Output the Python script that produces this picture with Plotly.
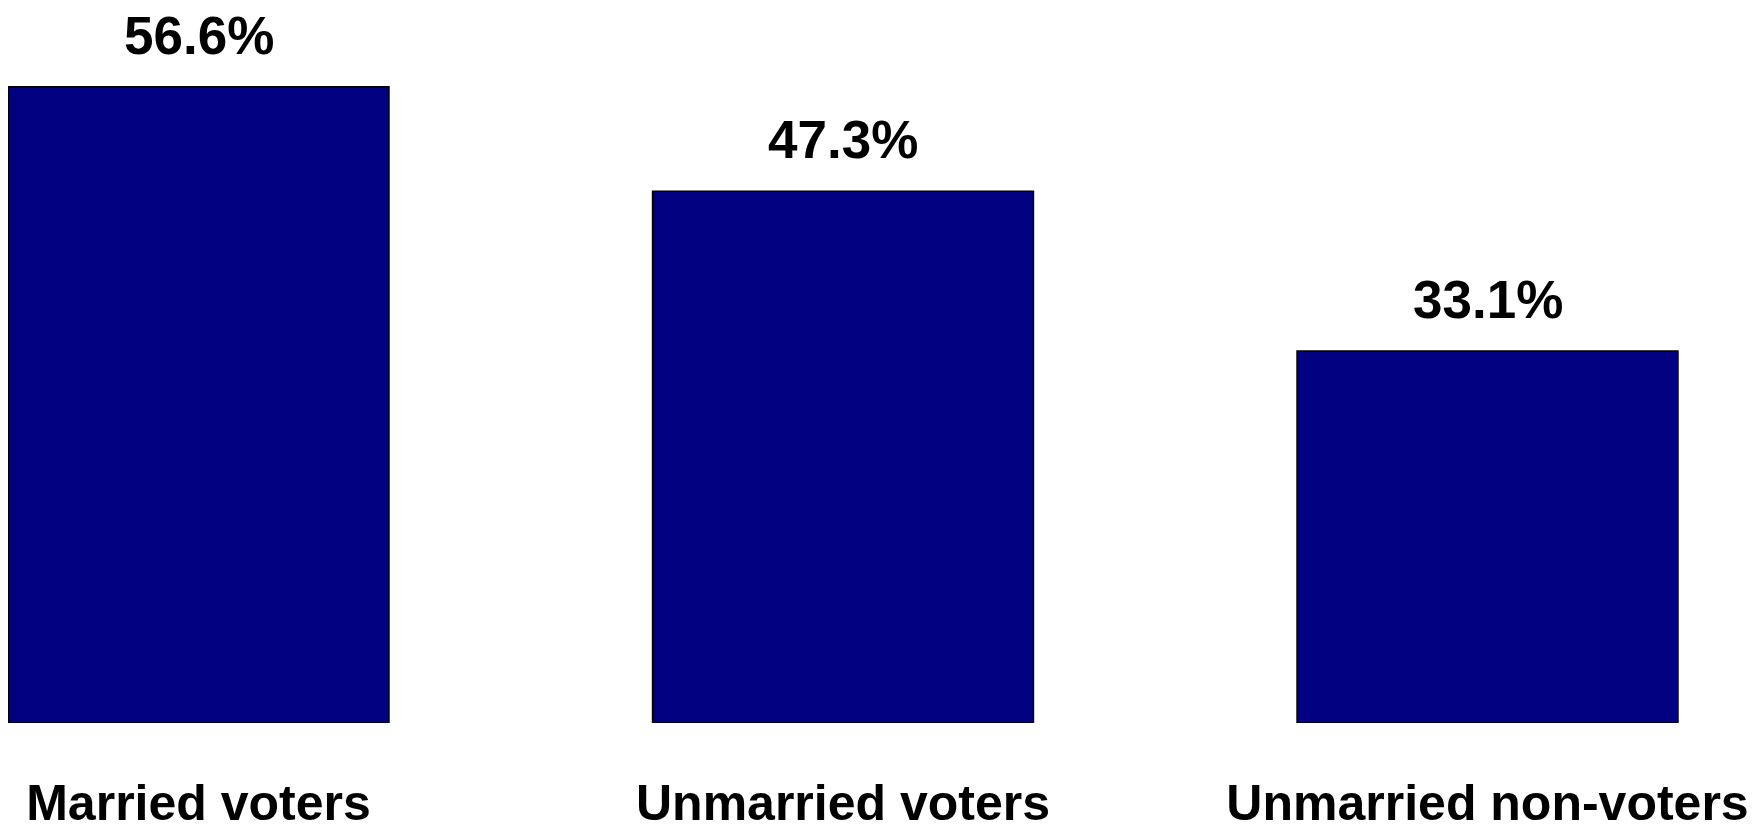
import plotly.graph_objects as go

categories = ["Married voters", "Unmarried voters", "Unmarried non-voters"]
values = [56.6, 47.3, 33.1]
value_labels = ["56.6%", "47.3%", "33.1%"]

FONT = "Arial, Liberation Sans, sans-serif"

fig = go.Figure()
fig.add_trace(go.Bar(
    x=categories,
    y=values,
    width=0.591,
    marker=dict(color="#000080", line=dict(color="#000000", width=1.5)),
    hoverinfo="skip",
))

for c, v, t in zip(categories, values, value_labels):
    fig.add_annotation(
        x=c, y=v, text="<b>%s</b>" % t, showarrow=False,
        yanchor="bottom", xanchor="center", yshift=20,
        font=dict(family=FONT, size=53, color="#000000"),
    )

# the page body adds an 8px margin, so the figure is 8px smaller
fig.update_layout(
    width=1748, height=816,
    margin=dict(l=0, r=0, t=0, b=101, pad=0, autoexpand=False),
    paper_bgcolor="white", plot_bgcolor="white",
    showlegend=False,
    font=dict(family=FONT, color="#000000"),
    xaxis=dict(
        type="category",
        range=[-0.2956, 2.4166],
        automargin=False,
        showgrid=False, zeroline=False, showline=False, ticks="",
        tickfont=dict(family=FONT, size=50, color="#000000", weight="bold"),
        ticklabelstandoff=46,
    ),
    yaxis=dict(
        range=[0, 63.6],
        automargin=False,
        showgrid=False, zeroline=False, showline=False,
        showticklabels=False, ticks="",
    ),
)

fig.write_html("out.html")
